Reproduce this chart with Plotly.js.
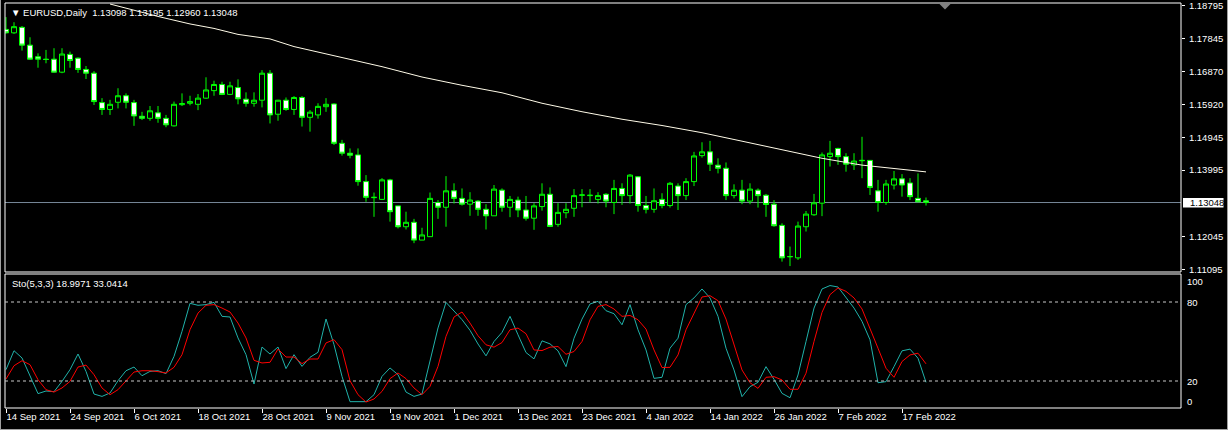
<!DOCTYPE html>
<html><head><meta charset="utf-8">
<script src="https://cdn.plot.ly/plotly-3.0.1.min.js"></script>
<style>html,body{margin:0;padding:0;background:#000;}#chart{width:1228px;height:430px;}</style>
</head><body><div id="chart"></div>
<script>
// ---------- DATA ----------
const dates = [
"2021-09-14","2021-09-15","2021-09-16","2021-09-17","2021-09-20","2021-09-21","2021-09-22","2021-09-23","2021-09-24","2021-09-27","2021-09-28","2021-09-29","2021-09-30",
"2021-10-01","2021-10-04","2021-10-05","2021-10-06","2021-10-07","2021-10-08","2021-10-11","2021-10-12","2021-10-13","2021-10-14","2021-10-15","2021-10-18","2021-10-19","2021-10-20","2021-10-21","2021-10-22","2021-10-25","2021-10-26","2021-10-27","2021-10-28","2021-10-29",
"2021-11-01","2021-11-02","2021-11-03","2021-11-04","2021-11-05","2021-11-08","2021-11-09","2021-11-10","2021-11-11","2021-11-12","2021-11-15","2021-11-16","2021-11-17","2021-11-18","2021-11-19","2021-11-22","2021-11-23","2021-11-24","2021-11-25","2021-11-26","2021-11-29","2021-11-30",
"2021-12-01","2021-12-02","2021-12-03","2021-12-06","2021-12-07","2021-12-08","2021-12-09","2021-12-10","2021-12-13","2021-12-14","2021-12-15","2021-12-16","2021-12-17","2021-12-20","2021-12-21","2021-12-22","2021-12-23","2021-12-24","2021-12-27","2021-12-28","2021-12-29","2021-12-30","2021-12-31",
"2022-01-03","2022-01-04","2022-01-05","2022-01-06","2022-01-07","2022-01-10","2022-01-11","2022-01-12","2022-01-13","2022-01-14","2022-01-17","2022-01-18","2022-01-19","2022-01-20","2022-01-21","2022-01-24","2022-01-25","2022-01-26","2022-01-27","2022-01-28","2022-01-31",
"2022-02-01","2022-02-02","2022-02-03","2022-02-04","2022-02-07","2022-02-08","2022-02-09","2022-02-10","2022-02-11","2022-02-14","2022-02-15","2022-02-16","2022-02-17","2022-02-18","2022-02-21","2022-02-22"
];
const open = [
1.1811,1.1801,1.1817,1.1765,1.1731,1.1724,1.1724,1.1686,1.1738,1.1727,1.1694,1.1683,1.1597,
1.1577,1.1598,1.1617,1.1597,1.1557,1.1551,1.1567,1.1551,1.1529,1.1591,1.1595,1.1592,1.1610,1.1632,1.1650,1.1621,1.1641,1.1607,1.1595,1.1604,1.1683,
1.1563,1.1604,1.1577,1.1612,1.1554,1.1561,1.1585,1.1593,1.1478,1.1449,1.1444,1.1366,1.1319,1.1314,1.1371,1.1295,1.1234,1.1247,1.1195,1.1205,1.1305,1.1291,
1.1339,1.1317,1.1300,1.1309,1.1285,1.1266,1.1341,1.1291,1.1312,1.1283,1.1259,1.1293,1.1329,1.1241,1.1275,1.1288,1.1326,1.1325,1.1314,1.1329,1.1305,1.1346,1.1325,
1.1380,1.1296,1.1285,1.1314,1.1296,1.1353,1.1325,1.1366,1.1442,1.1453,1.1414,1.1405,1.1325,1.1341,1.1309,1.1341,1.1326,1.1300,1.1238,1.1146,1.1143,
1.1234,1.1269,1.1303,1.1439,1.1463,1.1439,1.1415,1.1427,1.1428,1.1339,1.1305,1.1356,1.1374,1.1362,1.1317,1.13098
];
const high = [
1.1847,1.1832,1.1821,1.1788,1.1741,1.1751,1.1756,1.1756,1.1746,1.1729,1.1704,1.1689,1.1610,
1.1605,1.1639,1.1624,1.1605,1.1570,1.1587,1.1587,1.1561,1.1600,1.1624,1.1617,1.1622,1.1671,1.1661,1.1658,1.1658,1.1665,1.1627,1.1627,1.1692,1.1692,
1.1605,1.1612,1.1616,1.1616,1.1575,1.1595,1.1610,1.1595,1.1488,1.1463,1.1463,1.1385,1.1334,1.1376,1.1374,1.1295,1.1278,1.1257,1.1231,1.1334,1.1312,1.1382,
1.1361,1.1346,1.1335,1.1312,1.1300,1.1356,1.1346,1.1324,1.1322,1.1324,1.1303,1.1361,1.1349,1.1303,1.1303,1.1344,1.1344,1.1344,1.1335,1.1332,1.1371,1.1361,1.1388,
1.1382,1.1324,1.1346,1.1332,1.1365,1.1361,1.1376,1.1453,1.1481,1.1485,1.1434,1.1422,1.1358,1.1371,1.1361,1.1346,1.1330,1.1312,1.1244,1.1176,1.1249,
1.1280,1.1330,1.1451,1.1485,1.1465,1.1449,1.1449,1.1497,1.1429,1.1371,1.1371,1.1397,1.1388,1.1376,1.1390,1.13195
];
const low = [
1.1799,1.1798,1.1749,1.1722,1.1699,1.1712,1.1685,1.1683,1.1699,1.1684,1.1666,1.1590,1.1561,
1.1561,1.1580,1.1580,1.1529,1.1546,1.1544,1.1538,1.1525,1.1527,1.1587,1.1589,1.1575,1.1608,1.1617,1.1619,1.1619,1.1592,1.1585,1.1585,1.1583,1.1536,
1.1544,1.1573,1.1561,1.1527,1.1512,1.1550,1.1570,1.1473,1.1442,1.1434,1.1354,1.1307,1.1263,1.1312,1.1249,1.1229,1.1226,1.1186,1.1195,1.1205,1.1257,1.1234,
1.1302,1.1296,1.1266,1.1266,1.1226,1.1266,1.1278,1.1262,1.1262,1.1252,1.1225,1.1281,1.1233,1.1234,1.1259,1.1263,1.1291,1.1305,1.1302,1.1291,1.1271,1.1298,1.1302,
1.1278,1.1273,1.1275,1.1288,1.1290,1.1283,1.1312,1.1353,1.1436,1.1397,1.1390,1.1312,1.1317,1.1300,1.1300,1.1290,1.1263,1.1234,1.1132,1.1119,1.1137,
1.1220,1.1266,1.1265,1.1410,1.1415,1.1395,1.1400,1.1376,1.1327,1.1278,1.1298,1.1343,1.1322,1.1312,1.1306,1.12960
];
const close = [
1.1801,1.1819,1.1765,1.1724,1.1724,1.1723,1.1686,1.1739,1.1720,1.1694,1.1683,1.1600,1.1577,
1.1592,1.1617,1.1598,1.1558,1.1551,1.1573,1.1551,1.1532,1.1592,1.1594,1.1600,1.1610,1.1634,1.1650,1.1621,1.1646,1.1608,1.1595,1.1604,1.1683,1.1561,
1.1604,1.1577,1.1612,1.1554,1.1569,1.1586,1.1592,1.1478,1.1449,1.1443,1.1366,1.1320,1.1320,1.1371,1.1278,1.1234,1.1247,1.1195,1.1210,1.1317,1.1291,1.1339,
1.1317,1.1300,1.1312,1.1285,1.1266,1.1344,1.1291,1.1314,1.1283,1.1259,1.1295,1.1329,1.1235,1.1276,1.1285,1.1325,1.1327,1.1326,1.1325,1.1309,1.1346,1.1325,1.1385,
1.1296,1.1285,1.1310,1.1296,1.1361,1.1325,1.1366,1.1441,1.1453,1.1417,1.1405,1.1325,1.1341,1.1309,1.1344,1.1325,1.1299,1.1237,1.1143,1.1147,1.1236,
1.1271,1.1304,1.1444,1.1449,1.1439,1.1417,1.1426,1.1428,1.1349,1.1305,1.1359,1.1374,1.1356,1.1322,1.1307,1.13048
];
const maDates = ["2021-10-01","2021-10-11","2021-10-15","2021-10-20","2021-10-25","2021-10-29","2021-11-03","2021-11-08","2021-11-11","2021-11-18","2021-11-25","2021-12-02","2021-12-09","2021-12-16","2021-12-23","2021-12-30","2022-01-06","2022-01-13","2022-01-20","2022-01-27","2022-02-03","2022-02-10","2022-02-22"];
const maValues = [1.18853,1.18489,1.18270,1.18139,1.17964,1.17832,1.17608,1.17453,1.17293,1.17021,1.16718,1.16476,1.16257,1.15951,1.15703,1.15484,1.15300,1.15090,1.14842,1.14594,1.14341,1.14142,1.13944];
const stochK = [
28.6,43.0,37.5,23.5,10.4,12.4,11.9,19.7,28.6,40.5,27.3,10.1,8.3,10.9,20.2,27.8,30.6,24.0,27.3,27.8,
25.6,38.7,57.7,79.0,77.5,78.0,79.7,69.1,68.6,52.7,40.0,17.7,45.8,40.5,45.8,29.4,40.0,31.1,38.0,41.8,
67.1,47.6,23.5,4.3,4.3,4.3,9.6,23.5,29.9,24.8,11.6,8.3,10.1,36.2,60.3,79.7,72.9,66.6,58.5,48.1,
39.1,50.0,56.9,69.1,55.1,41.6,36.8,50.5,48.2,42.9,30.9,52.5,67.0,78.5,80.5,73.4,71.1,62.7,78.0,58.9,
43.6,22.0,22.8,44.9,52.5,78.0,83.1,89.9,83.1,69.1,44.9,28.4,8.1,15.7,19.0,30.9,21.3,10.6,7.3,24.6,
50.0,75.4,89.9,92.5,91.4,83.1,75.4,65.3,51.3,18.7,19.5,30.9,42.9,44.2,37.3,18.9971
];
const stochD = [
21.5,31.6,35.4,32.4,21.0,13.4,11.6,14.7,19.7,30.6,32.1,24.8,14.7,9.6,13.4,19.7,26.8,27.8,27.8,27.1,
26.1,30.4,40.0,59.0,71.6,77.5,78.0,75.4,72.4,64.0,52.7,35.7,33.7,34.2,44.3,38.2,38.2,33.2,36.7,36.7,
48.9,51.4,43.8,20.2,9.6,4.0,6.3,12.1,21.8,26.1,21.8,14.7,9.6,15.9,31.1,53.9,68.6,72.4,64.0,54.4,
47.5,45.7,49.2,58.9,60.2,55.9,43.6,43.1,45.7,46.2,40.3,42.4,50.0,66.5,76.7,78.0,74.7,69.1,69.8,66.5,
59.4,43.6,30.2,30.4,39.8,58.9,71.1,83.8,84.8,81.0,67.0,47.5,28.4,18.7,14.4,22.8,23.3,20.8,13.7,13.7,
25.9,50.0,72.1,85.6,90.7,88.1,83.1,74.7,60.2,44.9,29.7,22.8,34.8,39.8,41.1,33.0414
];
const tickDates = ["2021-09-14","2021-09-24","2021-10-06","2021-10-18","2021-10-28","2021-11-09","2021-11-19","2021-12-01","2021-12-13","2021-12-23","2022-01-04","2022-01-14","2022-01-26","2022-02-07","2022-02-17"];
const tickLabels = ["14 Sep 2021","24 Sep 2021","6 Oct 2021","18 Oct 2021","28 Oct 2021","9 Nov 2021","19 Nov 2021","1 Dec 2021","13 Dec 2021","23 Dec 2021","4 Jan 2022","14 Jan 2022","26 Jan 2022","7 Feb 2022","17 Feb 2022"];
const priceTicks = [1.18795,1.17845,1.16870,1.15920,1.14945,1.13995,1.12045,1.11095];
const stochLevels = [80,20];
const stochLabels = ["100","80","20","0"];
const headerText = "EURUSD,Daily  1.13098 1.13195 1.12960 1.13048";
const stochText = "Sto(5,3,3) 18.9971 33.0414";
const lastPrice = 1.13048;

// ---------- LAYOUT HELPERS ----------
const W = 1228, H = 430, ML = 5, MR = 47, MT = 3, MB = 22;
const PW = W - ML - MR, PH = H - MT - MB;
const px = x => (x - ML) / PW;          // pixel x -> paper
const py = y => (H - MB - y) / PH;      // pixel y -> paper
const FONT = "Liberation Sans, Arial, sans-serif";
const FS = 9.5;
const GREEN = "#00ff00";

const traces = [
  {type:"candlestick", x:dates, open:open, high:high, low:low, close:close,
   xaxis:"x", yaxis:"y", whiskerwidth:0, hoverinfo:"skip",
   increasing:{line:{color:GREEN,width:1}, fillcolor:"#000000"},
   decreasing:{line:{color:GREEN,width:1}, fillcolor:"#ffffff"}},
  {type:"scatter", mode:"lines", x:maDates, y:maValues, xaxis:"x", yaxis:"y",
   line:{color:"#fffbe8", width:1}, hoverinfo:"skip"},
  {type:"scatter", mode:"lines", x:dates, y:stochK, xaxis:"x", yaxis:"y2",
   line:{color:"#20b2aa", width:1}, hoverinfo:"skip"},
  {type:"scatter", mode:"lines", x:dates, y:stochD, xaxis:"x", yaxis:"y2",
   line:{color:"#ff0000", width:1}, hoverinfo:"skip"}
];

const shapes = [
  {type:"line", xref:"paper", yref:"y", x0:0, x1:1, y0:lastPrice, y1:lastPrice, line:{color:"#778899", width:1}, layer:"below"},
  {type:"rect", xref:"paper", yref:"paper", x0:0, x1:1, y0:py(272), y1:1, line:{color:"#ffffff", width:1}},
  {type:"rect", xref:"paper", yref:"paper", x0:0, x1:1, y0:0, y1:py(274), line:{color:"#ffffff", width:1}},
  {type:"line", xref:"paper", yref:"paper", x0:px(0.5), x1:px(0.5), y0:py(0), y1:py(430), line:{color:"#a0a0a0", width:1}},
  {type:"line", xref:"paper", yref:"paper", x0:px(1227.5), x1:px(1227.5), y0:py(0), y1:py(430), line:{color:"#a0a0a0", width:1}},
  {type:"line", xref:"paper", yref:"paper", x0:px(0), x1:px(1228), y0:py(429.5), y1:py(429.5), line:{color:"#a0a0a0", width:1}},
  {type:"path", xref:"paper", yref:"paper",
   path:`M ${px(939)} ${py(3.5)} L ${px(951)} ${py(3.5)} L ${px(945)} ${py(9.5)} Z`,
   fillcolor:"#808080", line:{width:0}},
  {type:"rect", xref:"paper", yref:"paper", x0:px(1183), x1:px(1223.5), y0:py(207.5), y1:py(198),
   fillcolor:"#ffffff", line:{width:0}}
];
stochLevels.forEach(v => shapes.push({type:"line", xref:"paper", yref:"y2", x0:0, x1:1, y0:v, y1:v,
  line:{color:"#c8c8c8", width:1, dash:"3px,3px"}}));

const annotations = [
  {xref:"paper", yref:"paper", x:px(9), y:py(12), xanchor:"left", yanchor:"middle", showarrow:false,
   text:"▼ " + headerText, font:{family:FONT, size:FS, color:"#ffffff"}},
  {xref:"paper", yref:"paper", x:px(10), y:py(283), xanchor:"left", yanchor:"middle", showarrow:false,
   text:stochText, font:{family:FONT, size:FS, color:"#ffffff"}},
  {xref:"paper", yref:"paper", x:px(1187.5), y:py(202.8), xanchor:"left", yanchor:"middle", showarrow:false,
   text:lastPrice.toFixed(5), font:{family:FONT, size:FS, color:"#000000"}}
];
const stochLabelY = [281, 302, 381, 401];
stochLabels.forEach((t,i) => annotations.push({xref:"paper", yref:"paper", x:px(1185), y:py(stochLabelY[i]),
  xanchor:"left", yanchor:"middle", showarrow:false, text:t, font:{family:FONT, size:FS, color:"#ffffff"}}));

const k = 0.0002924, p0 = 1.1897;
const layout = {
  width:W, height:H,
  paper_bgcolor:"#000000", plot_bgcolor:"#000000",
  margin:{l:ML, r:MR, t:MT, b:MB, pad:0},
  showlegend:false, hovermode:false, dragmode:false,
  font:{family:FONT, size:FS, color:"#ffffff"},
  boxgap:0.375, boxgroupgap:0,
  xaxis:{type:"category", range:[-0.125, 146.875], anchor:"y2", automargin:false,
    tickvals:tickDates, ticktext:tickLabels, tickangle:0, ticks:"outside", ticklen:4, tickcolor:"#ffffff", tickwidth:1,
    ticklabelposition:"outside right", showgrid:false, zeroline:false, showline:false,
    rangeslider:{visible:false}, tickfont:{family:FONT, size:FS, color:"#ffffff"}, fixedrange:true},
  yaxis:{domain:[py(272), 1], range:[p0 - 272*k, p0 - 3*k], side:"right", anchor:"x", automargin:false,
    tickvals:priceTicks, ticktext:priceTicks.map(v => v.toFixed(5)), ticklabelstandoff:2,
    ticks:"outside", ticklen:3, tickcolor:"#ffffff", showgrid:false, zeroline:false, showline:false,
    tickfont:{family:FONT, size:FS, color:"#ffffff"}, fixedrange:true},
  yaxis2:{domain:[0, py(274)], range:[-0.51, 101.27], side:"right", anchor:"x",
    showticklabels:false, ticks:"", showgrid:false, zeroline:false, showline:false, fixedrange:true},
  shapes:shapes, annotations:annotations
};

Plotly.newPlot("chart", traces, layout, {staticPlot:true, displayModeBar:false});
</script>
</body></html>
